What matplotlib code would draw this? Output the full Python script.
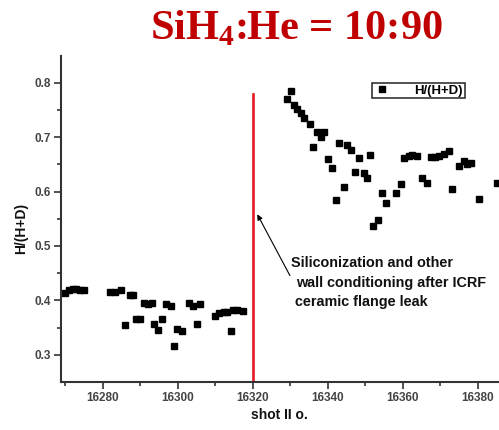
import numpy as np
import matplotlib
matplotlib.use("Agg")
import matplotlib.pyplot as plt

plt.rcParams['font.family'] = 'Liberation Sans'
plt.rcParams['font.weight'] = 'bold'
plt.rcParams['mathtext.fontset'] = 'custom'
plt.rcParams['mathtext.rm'] = 'Liberation Serif:bold'

# shot number and H/(H+D)
shot_before = [16270, 16271, 16272, 16273, 16274, 16275,
               16282, 16283.3, 16284.9, 16286.1, 16287.3, 16288.1, 16288.9, 16290,
               16291.1, 16292.1, 16293.1, 16293.7, 16294.9, 16295.9, 16296.9,
               16298.2, 16299.1, 16299.8, 16301.1, 16303.1, 16304.2, 16305.1,
               16306, 16310, 16311.1, 16312.4, 16313.1, 16314.2, 16314.9,
               16315.9, 16317.4]
ratio_before = [0.413, 0.419, 0.421, 0.420, 0.419, 0.419,
                0.415, 0.416, 0.419, 0.355, 0.410, 0.410, 0.365, 0.365,
                0.396, 0.394, 0.396, 0.356, 0.345, 0.365, 0.394,
                0.389, 0.316, 0.347, 0.343, 0.396, 0.390, 0.357,
                0.394, 0.372, 0.377, 0.378, 0.379, 0.344, 0.383,
                0.383, 0.380]

shot_after = [16329.1, 16330.3, 16331.1, 16331.9, 16332.9, 16333.7, 16335.3,
              16336.2, 16337.1, 16338.2, 16339.1, 16340.2, 16341.3, 16342.3,
              16343.1, 16344.4, 16345.1, 16346.2, 16347.3, 16348.4, 16349.7,
              16350.5, 16351.3, 16352.2, 16353.4, 16354.5, 16355.5, 16358.3,
              16359.5, 16360.4, 16361.6, 16362.5, 16363.8, 16365.1, 16366.6,
              16367.5, 16368.7, 16369.8, 16371.1, 16372.5, 16373.3, 16375.1,
              16376.4, 16377.1, 16378.2, 16380.4, 16385.3]
ratio_after = [0.770, 0.785, 0.759, 0.751, 0.744, 0.735, 0.724,
               0.682, 0.710, 0.700, 0.710, 0.660, 0.644, 0.585,
               0.690, 0.609, 0.686, 0.676, 0.635, 0.661, 0.634,
               0.624, 0.668, 0.537, 0.548, 0.598, 0.579, 0.597,
               0.614, 0.661, 0.665, 0.667, 0.665, 0.624, 0.616,
               0.663, 0.664, 0.666, 0.669, 0.675, 0.604, 0.647,
               0.656, 0.651, 0.652, 0.586, 0.615]

event_shot = 16320
x_ticks = [16280, 16300, 16320, 16340, 16360, 16380]
y_ticks = [0.3, 0.4, 0.5, 0.6, 0.7, 0.8]

fig = plt.figure(figsize=(4.99, 4.30), dpi=100)
ax = fig.add_axes([0.1222, 0.1116, 0.8778, 0.7582])

shots = shot_before + shot_after
ratios = ratio_before + ratio_after
ax.plot(shots, ratios, 's', color='black', markersize=4.6, label='H/(H+D)')

# wall conditioning event
ax.plot([event_shot, event_shot], [0.25, 0.78], color='#e31b23', lw=1.9)

ax.set_xlim(16268.9, 16385.7)
ax.set_ylim(0.25, 0.849)
ax.set_xticks(x_ticks)
ax.set_xticks(np.arange(16270, 16386, 20), minor=True)
ax.set_yticks(y_ticks)
ax.set_yticks(np.arange(0.35, 0.85, 0.1), minor=True)
ax.tick_params(axis='both', which='major', direction='out', length=5, width=1.2,
               colors='#333333', labelsize=8.5, labelcolor='#444444', pad=2.5)
ax.tick_params(axis='both', which='minor', direction='out', length=3, width=1.2,
               colors='#333333')
for s in ['top', 'right']:
    ax.spines[s].set_visible(False)
for s in ['left', 'bottom']:
    ax.spines[s].set_linewidth(1.5)
    ax.spines[s].set_color('#333333')

ax.set_xlabel('shot II o.', fontsize=10, fontweight='bold', color='#111111')
ax.xaxis.set_label_coords(0.498, -0.08)
ax.set_ylabel('H/(H+D)', fontsize=10, fontweight='bold', color='#111111')
ax.yaxis.set_label_coords(-0.076, 0.472)

ax.annotate('', xy=(16320.9, 0.5626), xytext=(16330.3, 0.441),
            arrowprops=dict(arrowstyle='-|>', color='black', lw=0.8,
                            mutation_scale=8))
ax.text(16330.3, 0.469, 'Siliconization and other', fontsize=10.4,
        fontweight='bold', va='center', ha='left', color='#111111')
ax.text(16331.6, 0.432, 'wall conditioning after ICRF', fontsize=10.4,
        fontweight='bold', va='center', ha='left', color='#111111')
ax.text(16331.3, 0.397, 'ceramic flange leak', fontsize=10.4,
        fontweight='bold', va='center', ha='left', color='#111111')

leg = ax.legend(loc='upper left', bbox_to_anchor=(372 / 499, 1 - 83 / 430),
                bbox_transform=fig.transFigure, fontsize=9.5, frameon=True,
                fancybox=False, handlelength=1.2, handletextpad=1.9,
                borderpad=0.12, borderaxespad=0)
leg.get_frame().set_edgecolor('black')
leg.get_frame().set_linewidth(1.2)

fig.text(0.593, 1 - 39 / 430, 'SiH$_4$:He = 10:90', fontsize=30.5,
         family='Liberation Serif', fontweight='bold', color='#c00000',
         ha='center', va='baseline')

fig.savefig('out.png', dpi=100)
